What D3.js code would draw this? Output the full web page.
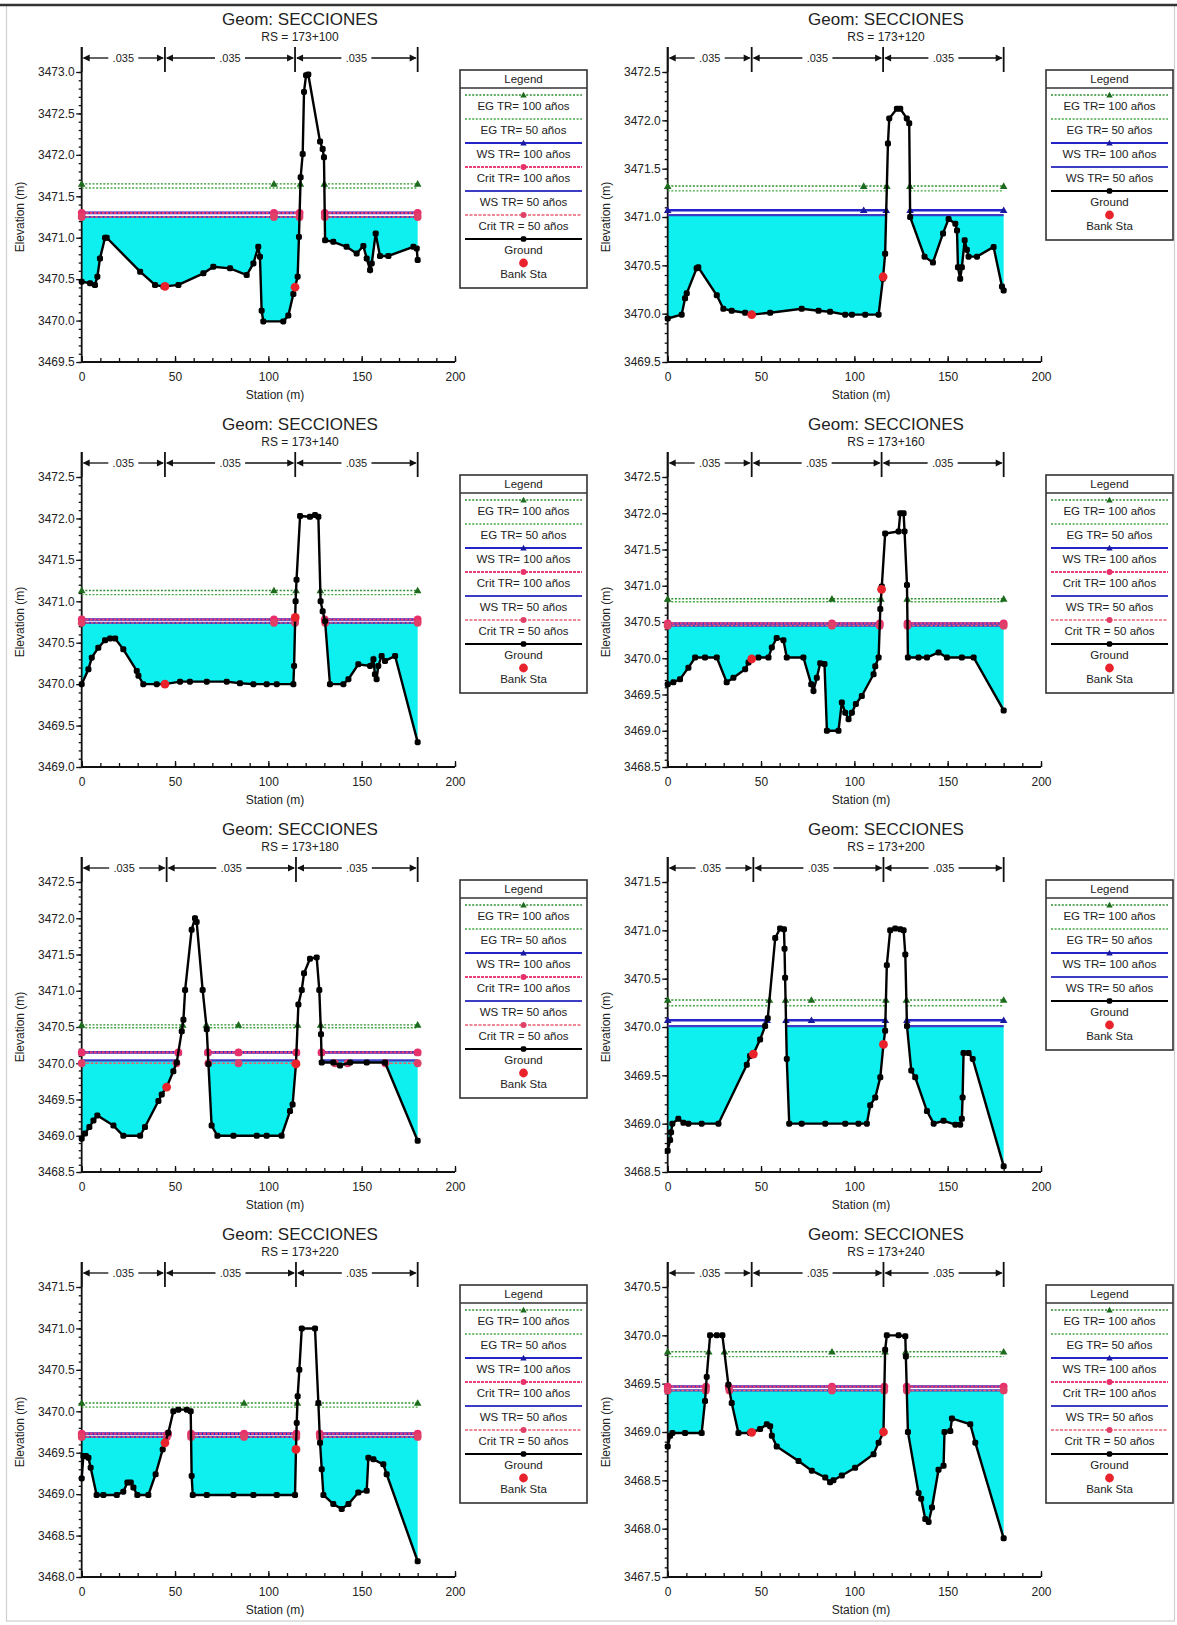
<!DOCTYPE html>
<html><head><meta charset="utf-8">
<script src="https://cdn.jsdelivr.net/npm/d3@7"></script>
<style>
body{margin:0;background:#fff}
svg{display:block}
text{font-family:"Liberation Sans",Arial,sans-serif;fill:#222}
</style>
</head><body>
<svg id="c" width="1177" height="1625"></svg>
<script>
// ---------------- DATA ----------------
const sections = ["173+100","173+120","173+140","173+160","173+180","173+200","173+220","173+240"];
const yDomains = [[3469.5,3473.0],[3469.5,3472.5],[3469.0,3472.5],[3468.5,3472.5],[3468.5,3472.5],[3468.5,3471.5],[3468.0,3471.5],[3467.5,3470.5]];
const xTicks = [0,50,100,150,200];
const manningN = [".035",".035",".035"];

const ground100 = [[0,3470.47],[4.5,3470.45],[7.1,3470.43],[8.4,3470.53],[9.8,3470.75],[12.5,3471.0],[13.4,3471.0],[31.3,3470.59],[39.3,3470.43],[43.8,3470.41],[51.8,3470.43],[65.2,3470.57],[70.5,3470.65],[79.5,3470.63],[88.4,3470.55],[92,3470.69],[94.6,3470.89],[95.5,3470.77],[96.4,3470.12],[97.3,3469.99],[108,3469.99],[110.7,3470.06],[113.4,3470.32],[115.7,3470.53],[116.4,3471.01],[117.3,3471.73],[118.4,3472.01],[119.1,3472.76],[120.2,3472.96],[121.4,3472.97],[127.7,3472.16],[129.1,3472.07],[129.8,3471.97],[130.4,3470.97],[134.8,3470.95],[141.9,3470.89],[147.3,3470.81],[150.9,3470.90],[152.7,3470.75],[154.5,3470.61],[155.4,3470.69],[157.5,3471.05],[159.8,3470.78],[164.3,3470.78],[177.7,3470.89],[179.5,3470.87],[180,3470.73]];
const ground120 = [[0,3469.95],[7.5,3469.99],[9.3,3470.16],[10.2,3470.21],[15.5,3470.47],[16.4,3470.48],[26.3,3470.19],[29.8,3470.05],[34.3,3470.03],[41.5,3470.01],[45,3469.99],[54.9,3470.01],[71.8,3470.05],[80.8,3470.03],[87,3470.02],[95.1,3469.99],[98.7,3469.99],[105.8,3469.99],[113,3469.99],[115.3,3470.36],[116.5,3470.62],[118,3471.76],[118.7,3472.02],[122.8,3472.12],[124.6,3472.12],[128.1,3472.02],[129.4,3471.97],[129.9,3471.0],[137.6,3470.59],[142.1,3470.53],[147.5,3470.83],[150.5,3470.98],[154.1,3470.93],[155,3470.86],[155.5,3470.48],[156.7,3470.36],[157.6,3470.48],[159.1,3470.76],[160.3,3470.66],[161.2,3470.59],[165.7,3470.59],[174.6,3470.69],[179.1,3470.28],[180,3470.24]];
const ground140 = [[0,3470.0],[3.6,3470.18],[5.4,3470.32],[8.9,3470.44],[12.5,3470.53],[15.2,3470.55],[17.9,3470.55],[22.3,3470.42],[29.5,3470.16],[30.4,3470.10],[33,3470.0],[40.2,3470.0],[44.6,3470.0],[52.7,3470.03],[58,3470.03],[67,3470.03],[77.7,3470.03],[84.8,3470.01],[92,3470.0],[99.1,3470.0],[104.5,3470.0],[113.4,3470.0],[113.8,3470.22],[114.6,3471.0],[115.1,3471.26],[117,3472.03],[122.3,3472.02],[125,3472.04],[126.8,3472.02],[128,3471.0],[129.1,3470.88],[130.4,3470.76],[133,3470.0],[140.2,3470.0],[142.9,3470.06],[148.2,3470.24],[154.5,3470.22],[156.3,3470.30],[157.1,3470.12],[158,3470.06],[158.9,3470.22],[160.7,3470.34],[162.5,3470.28],[167.9,3470.34],[180,3469.30]];
const ground160 = [[0,3469.64],[3,3469.67],[6.6,3469.71],[11.1,3469.87],[14.7,3470.01],[20,3470.01],[26.3,3470.01],[31.6,3469.67],[35.2,3469.73],[41.5,3469.85],[43.3,3469.94],[45,3469.99],[48.6,3470.01],[54,3470.01],[55.8,3470.15],[58.4,3470.28],[62,3470.25],[63.8,3470.01],[72.7,3470.01],[76.9,3469.64],[78.1,3469.55],[79.9,3469.73],[81.7,3469.93],[84,3469.92],[85.3,3469.0],[91.5,3469.0],[93.3,3469.39],[95.1,3469.25],[96.9,3469.16],[98.7,3469.25],[100.8,3469.37],[104,3469.48],[110.3,3469.78],[111.2,3469.89],[113,3470.01],[113.9,3470.68],[114.7,3470.99],[116.5,3471.72],[123.7,3471.75],[124.6,3472.0],[126.4,3472.0],[126.9,3471.75],[128.2,3471.01],[128.7,3470.01],[134.4,3470.01],[138.9,3470.01],[145.1,3470.08],[149.6,3470.01],[157.6,3470.01],[163.9,3470.01],[180,3469.28]];
const ground180 = [[0,3468.96],[1.8,3469.03],[4.1,3469.12],[6.3,3469.21],[8.4,3469.28],[17,3469.14],[22.3,3469.0],[31.3,3469.0],[33.9,3469.12],[41.1,3469.48],[42.9,3469.57],[45.5,3469.67],[49.1,3469.89],[50.9,3470.01],[53.6,3470.44],[54.5,3470.60],[55.4,3471.01],[58.9,3471.84],[60.7,3472.0],[61.6,3471.95],[64.8,3471.01],[67,3470.47],[67.9,3469.99],[69.6,3469.14],[72.7,3469.0],[81.3,3469.0],[93.8,3469.0],[99.1,3469.0],[107.1,3469.0],[111.6,3469.34],[113,3469.43],[114.8,3469.99],[116.1,3470.81],[117.9,3471.01],[119.1,3471.24],[122.3,3471.44],[125.9,3471.46],[127.3,3471.01],[128.2,3470.40],[128.6,3470.01],[134.8,3470.01],[138.4,3469.97],[143.8,3470.01],[152.7,3470.01],[162.5,3470.01],[180,3468.93]];
const ground200 = [[0,3468.72],[1.3,3468.83],[1.8,3468.91],[2.5,3469.0],[5.7,3469.05],[8.4,3469.01],[11.1,3469.0],[18.2,3469.0],[27.2,3469.0],[42.4,3469.61],[44.1,3469.70],[45.9,3469.72],[49.5,3469.87],[52.2,3470.01],[53.6,3470.09],[57.6,3470.92],[60.2,3471.02],[62.3,3471.01],[62.6,3470.81],[62.9,3470.51],[63.8,3469.67],[65.1,3469.0],[71.8,3469.0],[84.4,3469.0],[95.1,3469.0],[102.2,3469.0],[106.7,3469.0],[108.5,3469.19],[111.2,3469.27],[113.9,3469.48],[115.6,3469.82],[116.5,3469.96],[117.4,3470.64],[119.2,3471.0],[121.9,3471.02],[124.6,3471.01],[126.4,3471.0],[127.3,3470.75],[128.2,3470.01],[130.5,3469.55],[132.6,3469.48],[138.9,3469.13],[142.5,3469.0],[147.8,3469.03],[154.1,3468.99],[156.7,3468.99],[157.6,3469.05],[158,3469.27],[158.5,3469.73],[161.2,3469.73],[163.4,3469.67],[180,3468.56]];
const ground220 = [[0,3469.19],[0.9,3469.46],[2.3,3469.46],[3.6,3469.44],[4.8,3469.32],[8,3468.99],[11.6,3468.99],[18.8,3468.99],[22.3,3469.03],[24.5,3469.14],[26.3,3469.14],[27.7,3469.08],[29.8,3468.99],[35.7,3468.99],[39.6,3469.24],[43.4,3469.54],[44.6,3469.62],[46.4,3469.74],[49.1,3470.0],[51.8,3470.02],[56.3,3470.02],[58.4,3470.0],[58.9,3469.22],[59.5,3468.99],[67,3468.99],[81.3,3468.99],[92,3468.99],[104.5,3468.99],[114.3,3468.99],[114.8,3469.54],[115.2,3469.86],[115.7,3470.18],[116.6,3470.50],[117.9,3471.0],[125,3471.0],[126.8,3470.1],[127.7,3469.62],[128.6,3469.30],[129.5,3468.99],[134.8,3468.88],[139.3,3468.82],[142.9,3468.88],[148.2,3469.02],[152.7,3469.04],[153.6,3469.44],[156.3,3469.42],[161.6,3469.36],[163.4,3469.24],[180,3468.19]];
const ground240 = [[0,3468.85],[1.3,3468.96],[2.5,3468.99],[9.3,3468.99],[18.2,3468.99],[20,3469.32],[20.9,3469.57],[22.7,3470.0],[26.3,3470.0],[29.3,3470.0],[32.5,3469.49],[34.3,3469.30],[37.9,3468.99],[44.1,3468.99],[49.5,3469.03],[53.1,3469.08],[54.9,3469.06],[55.8,3468.96],[58.4,3468.85],[70.1,3468.70],[77.2,3468.60],[84.4,3468.53],[87,3468.48],[88.8,3468.50],[93.3,3468.55],[100.4,3468.63],[110.3,3468.77],[113,3468.89],[115.6,3469.0],[116.5,3469.85],[117.4,3470.0],[123.7,3470.0],[127.3,3469.99],[127.6,3469.78],[128.7,3469.0],[134.4,3468.37],[135.8,3468.31],[138,3468.10],[139.8,3468.07],[141.6,3468.22],[145.1,3468.61],[147.8,3468.65],[148.3,3469.0],[151.4,3469.01],[152.3,3469.14],[162.1,3469.08],[164.8,3468.89],[180,3467.90]];
const grounds = [ground100, ground120, ground140, ground160, ground180, ground200, ground220, ground240];

const bankStations = [[44.6,114.3],[45,115.4],[44.6,114.4],[45,114.6],[45.5,114.8],[45.9,115.6],[44.6,114.8],[45,115.6]];
const egTR100   = [3471.65, 3471.32, 3471.13, 3470.82, 3470.53, 3470.28, 3470.10, 3469.83];
const egTR50    = [3471.60, 3471.27, 3471.08, 3470.78, 3470.49, 3470.22, 3470.05, 3469.78];
const wsTR100   = [3471.30, 3471.07, 3470.78, 3470.48, 3470.15, 3470.07, 3469.73, 3469.47];
const critTR100 = [3471.30, null,    3470.78, 3470.48, 3470.15, null,    3469.73, 3469.47];
const wsTR50    = [3471.25, 3471.02, 3470.74, 3470.45, 3470.04, 3470.01, 3469.69, 3469.43];
const critTR50  = [3471.25, null,    3470.74, 3470.45, 3470.00, null,    3469.69, 3469.43];
const markerStations = [103, 105, 103, 88, 84, 77, 87, 88];

const legendLabels = ["EG TR= 100 años","EG TR= 50 años","WS TR= 100 años","Crit TR= 100 años","WS TR= 50 años","Crit TR = 50 años","Ground","Bank Sta"];

// ---------------- STYLES ----------------
const styles = {
  eg100:  {color:"#2f8f2f", dash:"2,1.6", width:1.4, marker:"tri", mfill:"#1d6b1d"},
  eg50:   {color:"#45a845", dash:"2,1.6", width:1.4, marker:null},
  ws100:  {color:"#2424c8", dash:null, width:2.6, marker:"tri", mfill:"#1a1aa0"},
  crit100:{color:"#e8407a", dash:"3,1", width:2.2, marker:"circ", mfill:"#e8306a"},
  ws50:   {color:"#3c3cc4", dash:null, width:2.2, marker:null},
  crit50: {color:"#e86070", dash:"3,1.5", width:1.4, marker:"circ", mfill:"#e04068"},
};

// ---------------- RENDER ----------------
const svg = d3.select("#c");
const COLW = 586, ROWH = 405;
const PL = 81.7, PR = 455, PT = 72, PB = 362;

svg.append("rect").attr("x",6.5).attr("y",5).attr("width",1168).attr("height",1616)
  .attr("fill","none").attr("stroke","#cfcfcf").attr("stroke-width",1.2);
svg.append("line").attr("x1",0).attr("x2",1177).attr("y1",5).attr("y2",5)
  .attr("stroke","#333").attr("stroke-width",2.6);

function wetSegments(g, L){
  const segs=[]; let start = g[0][1] < L ? g[0][0] : null;
  for(let i=1;i<g.length;i++){
    const [x0,y0]=g[i-1],[x1,y1]=g[i];
    const w0=y0<L, w1=y1<L;
    if(w0!==w1){
      const xc = x0 + (L-y0)/(y1-y0)*(x1-x0);
      if(w1) start = xc; else { segs.push([start,xc]); start=null; }
    }
  }
  if(start!==null) segs.push([start, g[g.length-1][0]]);
  return segs;
}
function fillPoints(g, L){
  const pts=[];
  for(let i=0;i<g.length;i++){
    pts.push(g[i]);
    if(i<g.length-1){
      const [x0,y0]=g[i],[x1,y1]=g[i+1];
      if((y0<L)!==(y1<L)) pts.push([x0+(L-y0)/(y1-y0)*(x1-x0), L]);
    }
  }
  return pts;
}
function groundAt(g, s){
  for(let i=1;i<g.length;i++){
    if(s<=g[i][0]){ const [x0,y0]=g[i-1],[x1,y1]=g[i]; return y0+(s-x0)/(x1-x0)*(y1-y0); }
  }
  return g[g.length-1][1];
}
function drawMarker(sel, type, cx, cy, fill, size){
  if(type==="tri"){
    const s=size||3.8;
    sel.append("path").attr("d",`M${cx},${cy-s} L${cx+s},${cy+s*0.75} L${cx-s},${cy+s*0.75} Z`).attr("fill",fill);
  } else if(type==="circ"){
    sel.append("circle").attr("cx",cx).attr("cy",cy).attr("r",size||3.9).attr("fill",fill);
  } else if(type==="sq"){
    const s=size||6;
    sel.append("rect").attr("x",cx-s/2).attr("y",cy-s/2).attr("width",s).attr("height",s).attr("rx",1.8).attr("fill",fill);
  }
}

sections.forEach((rs,i)=>{
  const col=i%2, row=Math.floor(i/2);
  const g = svg.append("g").attr("transform",`translate(${col*COLW},${row*ROWH})`);
  const x = d3.scaleLinear().domain([0,200]).range([PL,PR]);
  const y = d3.scaleLinear().domain(yDomains[i]).range([PB,PT]);
  const gr = grounds[i];
  const hasCrit = critTR100[i]!==null;

  g.append("text").attr("x",300).attr("y",25).attr("text-anchor","middle")
    .attr("font-size",17).attr("fill","#333").text("Geom: SECCIONES");
  g.append("text").attr("x",300).attr("y",41).attr("text-anchor","middle")
    .attr("font-size",12).attr("fill","#333").text("RS = "+rs);

  const L = wsTR50[i];
  const fp = fillPoints(gr, L);
  g.append("path").datum(fp)
    .attr("d", d3.area().x(d=>x(d[0])).y0(y(L)).y1(d=>y(Math.min(d[1],L))))
    .attr("fill","#0ef0f0");

  const [ymin,ymax] = yDomains[i];
  const majors = d3.range(Math.round(ymin*2), Math.round(ymax*2)+1).map(v=>v/2);
  const minors = d3.range(Math.round(ymin*10), Math.round(ymax*10)+1).map(v=>v/10);
  const ya = g.append("g").attr("transform",`translate(${PL},0)`)
    .call(d3.axisLeft(y).tickValues(minors).tickSize(3).tickSizeOuter(0).tickFormat(""));
  ya.select(".domain").remove();
  const yb = g.append("g").attr("transform",`translate(${PL},0)`)
    .call(d3.axisLeft(y).tickValues(majors).tickSize(5.5).tickSizeOuter(0).tickPadding(1.5).tickFormat(d3.format(".1f")));
  yb.select(".domain").remove();
  yb.selectAll("text").attr("font-size",12).attr("font-family","Liberation Sans, Arial, sans-serif").attr("fill","#333");
  [ya,yb].forEach(a=>a.selectAll("line").attr("stroke","#111").attr("stroke-width",1.3));

  const xm = g.append("g").attr("transform",`translate(0,${PB})`)
    .call(d3.axisBottom(x).tickValues(d3.range(0,201,10)).tickSize(-4).tickSizeOuter(0).tickFormat(""));
  xm.select(".domain").remove();
  const xa = g.append("g").attr("transform",`translate(0,${PB})`)
    .call(d3.axisBottom(x).tickValues(xTicks).tickSize(-6).tickSizeOuter(0).tickPadding(10).tickFormat(d3.format("d")));
  xa.select(".domain").remove();
  xa.selectAll("text").attr("font-size",12).attr("font-family","Liberation Sans, Arial, sans-serif").attr("fill","#333");
  [xm,xa].forEach(a=>a.selectAll("line").attr("stroke","#111").attr("stroke-width",1.3));
  g.append("line").attr("x1",PL).attr("x2",PL).attr("y1",47).attr("y2",PB).attr("stroke","#111").attr("stroke-width",1.8);
  g.append("line").attr("x1",PL).attr("x2",PR).attr("y1",PB).attr("y2",PB).attr("stroke","#111").attr("stroke-width",1.8);

  g.append("text").attr("x",275).attr("y",399).attr("text-anchor","middle").attr("font-size",12).attr("fill","#333").text("Station (m)");
  g.append("text").attr("transform",`translate(24,217) rotate(-90)`).attr("text-anchor","middle").attr("font-size",12).attr("fill","#333").text("Elevation (m)");

  const endSta = gr[gr.length-1][0];
  const divs = [0, bankStations[i][0], bankStations[i][1], endSta];
  const by = 58;
  divs.forEach(d=>{
    g.append("line").attr("x1",x(d)).attr("x2",x(d)).attr("y1",47).attr("y2",72).attr("stroke","#111").attr("stroke-width",1.8);
  });
  manningN.forEach((n,k)=>{
    const a=x(divs[k]), b=x(divs[k+1]), m=(a+b)/2;
    g.append("text").attr("x",m).attr("y",by+4).attr("text-anchor","middle").attr("font-size",11).attr("fill","#333").text(n);
    const tw = 24;
    g.append("line").attr("x1",a+2).attr("x2",m-tw/2-3).attr("y1",by).attr("y2",by).attr("stroke","#111").attr("stroke-width",1.3);
    g.append("line").attr("x1",m+tw/2+3).attr("x2",b-2).attr("y1",by).attr("y2",by).attr("stroke","#111").attr("stroke-width",1.3);
    g.append("path").attr("d",`M${a+1},${by} L${a+8},${by-3.5} L${a+8},${by+3.5} Z`).attr("fill","#111");
    g.append("path").attr("d",`M${b-1},${by} L${b-8},${by-3.5} L${b-8},${by+3.5} Z`).attr("fill","#111");
  });

  const lineDefs = [
    [egTR100[i], styles.eg100],
    [egTR50[i], styles.eg50],
    [wsTR100[i], styles.ws100],
    [wsTR50[i], styles.ws50],
  ];
  if(hasCrit){ lineDefs.push([critTR100[i], styles.crit100]); lineDefs.push([critTR50[i], styles.crit50]); }
  lineDefs.forEach(([lev, st])=>{
    wetSegments(gr, lev).forEach(([s0,s1])=>{
      const ln = g.append("line").attr("x1",x(s0)).attr("x2",x(s1)).attr("y1",y(lev)).attr("y2",y(lev))
        .attr("stroke",st.color).attr("stroke-width",st.width);
      if(st.dash) ln.attr("stroke-dasharray",st.dash);
    });
  });
  lineDefs.forEach(([lev, st])=>{
    if(!st.marker) return;
    const ms = markerStations[i];
    wetSegments(gr, lev).forEach(([s0,s1])=>{
      drawMarker(g, st.marker, x(s0), y(lev), st.mfill);
      drawMarker(g, st.marker, x(s1), y(lev), st.mfill);
      if(ms>s0 && ms<s1) drawMarker(g, st.marker, x(ms), y(lev), st.mfill);
    });
  });

  g.append("path").datum(gr).attr("d", d3.line().x(d=>x(d[0])).y(d=>y(d[1])))
    .attr("fill","none").attr("stroke","#000").attr("stroke-width",2.4);
  gr.forEach(d=>drawMarker(g,"sq",x(d[0]),y(d[1]),"#000",6));

  bankStations[i].forEach(s=>{
    g.append("circle").attr("cx",x(s)).attr("cy",y(groundAt(gr,s))).attr("r",4.4).attr("fill","#e8232b");
  });

  const items = hasCrit ? [0,1,2,3,4,5,6,7] : [0,1,2,4,6,7];
  const itemStyle = [styles.eg100, styles.eg50, styles.ws100, styles.crit100, styles.ws50, styles.crit50, null, null];
  const LX=460, LW=127, LT=70;
  const LH = 25 + 24*(items.length-1) + 25;
  const lg = g.append("g");
  lg.append("rect").attr("x",LX).attr("y",LT).attr("width",LW).attr("height",LH)
    .attr("fill","#fff").attr("stroke","#333").attr("stroke-width",1.6);
  lg.append("line").attr("x1",LX).attr("x2",LX+LW).attr("y1",LT+18).attr("y2",LT+18).attr("stroke","#333").attr("stroke-width",1.6);
  lg.append("text").attr("x",LX+LW/2).attr("y",LT+13).attr("text-anchor","middle").attr("font-size",11.5).attr("fill","#333").text("Legend");
  const cx = LX+LW/2;
  items.forEach((k,j)=>{
    const ly = LT + 25 + 24*j;
    const st = itemStyle[k];
    if(k===6){
      lg.append("line").attr("x1",LX+5).attr("x2",LX+LW-5).attr("y1",ly).attr("y2",ly).attr("stroke","#000").attr("stroke-width",2);
      drawMarker(lg,"sq",cx,ly,"#000",5.6);
    } else if(k===7){
      lg.append("circle").attr("cx",cx).attr("cy",ly).attr("r",4.4).attr("fill","#e8232b");
    } else {
      const ln = lg.append("line").attr("x1",LX+5).attr("x2",LX+LW-5).attr("y1",ly).attr("y2",ly)
        .attr("stroke",st.color).attr("stroke-width",Math.min(st.width,1.8));
      if(st.dash) ln.attr("stroke-dasharray",st.dash);
      if(st.marker) drawMarker(lg, st.marker, cx, ly, st.mfill, st.marker==="tri"?3.2:3);
    }
    lg.append("text").attr("x",cx).attr("y",ly+15).attr("text-anchor","middle").attr("font-size",11.5).attr("fill","#333").text(legendLabels[k]);
  });
});
</script>
</body></html>
